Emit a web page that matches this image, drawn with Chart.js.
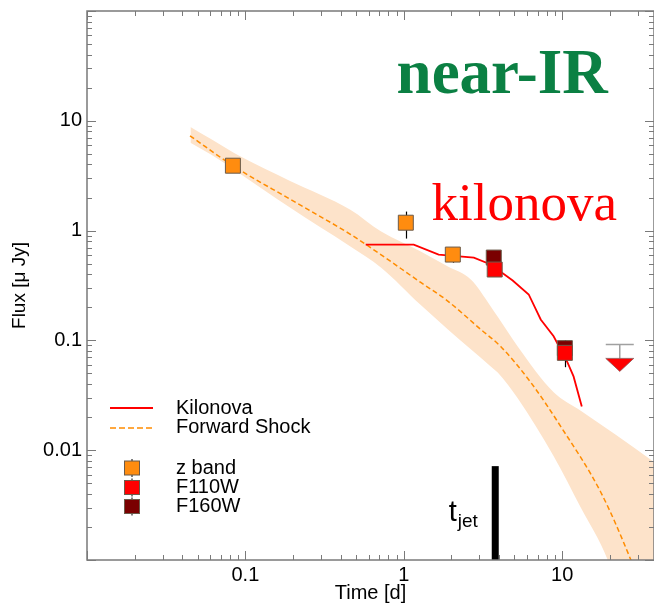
<!DOCTYPE html>
<html>
<head>
<meta charset="utf-8">
<script src="https://cdn.jsdelivr.net/npm/chart.js@4.4.0/dist/chart.umd.min.js"></script>
<style>
  html, body { margin: 0; padding: 0; background: #fff; }
  canvas { display: block; }
</style>
</head>
<body>
<canvas id="lc" width="654" height="603"></canvas>
<script>
'use strict'

// forward shock uncertainty band, upper and lower edge on one time grid
const bandTime = [0.045, 0.061, 0.094, 0.19, 0.46, 0.72, 1.28, 1.9, 2.65, 3.54, 3.92, 5.24, 8.84, 13.1, 19.4, 21.8, 38]
const bandHigh = [8.8, 6.8, 4.7, 2.85, 1.55, 0.98, 0.645, 0.47, 0.358, 0.204, 0.164, 0.088, 0.0337, 0.0229, 0.0155, 0.0138, 0.0078]
const bandLow = [6.3, 4.9, 3.25, 1.63, 0.715, 0.46, 0.21, 0.126, 0.083, 0.058, 0.051, 0.0297, 0.0088, 0.003, 0.001, 0.0006, 0.0001]

// forward shock model (dashed)
const fsTime = [0.0447, 0.0834, 0.194, 0.463, 0.716, 1.28, 1.84, 3.06, 4.09, 6.33, 9.78, 17.5, 27.0, 31]
const fsFlux = [7.3, 3.9, 1.91, 0.92, 0.605, 0.337, 0.236, 0.126, 0.088, 0.0415, 0.0165, 0.00416, 0.00102, 0.0006]

// kilonova model
const knTime = [0.575, 1.156, 1.66, 2.77, 3.54, 4.87, 6.15, 7.32, 8.83, 10.8, 11.8, 13.3]
const knFlux = [0.746, 0.746, 0.605, 0.568, 0.491, 0.351, 0.262, 0.155, 0.109, 0.063, 0.047, 0.025]

// photometry
const zTime = [0.0834, 1.03, 2.04]
const zFlux = [3.9, 1.18, 0.605]
const zErrLo = [null, 0.846, 0.51]
const zErrHi = [null, 1.49, 0.605]

const f110Time = [3.75, 10.4]
const f110Flux = [0.442, 0.077]
const f110ErrLo = [null, 0.057]
const f110ErrHi = [null, 0.10]

const f160Time = [3.7, 10.4]
const f160Flux = [0.568, 0.085]

// F110W upper limit
const limTime = [23.1]
const limFlux = [0.092]

// jet break
const tJet = 3.78
const tJetTop = 0.00716

const xLabels = [0.1, 1, 10]
const yLabels = [0.01, 0.1, 1, 10]

const sans = '"Liberation Sans", Arial, sans-serif'
const serif = '"Liberation Serif", "Times New Roman", serif'
const axisGrey = '#7a7a7a'

function pts(xs, ys) {
    return xs.map((v, i) => ({ x: v, y: ys[i] }));
}

function logTicks(lo, hi, max) {
    let out = [];
    for (let e = lo; e <= hi; e++) {
        for (let m = 1; m < 10; m++) {
            let v = +(m * Math.pow(10, e)).toPrecision(3);
            if (v <= max) out.push(v);
        }
    }
    return out;
}

function labelFor(list) {
    return function (value) {
        for (let i = 0; i < list.length; i++) {
            if (Math.abs(value / list[i] - 1) < 1e-6) return String(list[i]);
        }
        return '';
    }
}

function isDecade(v) {
    let l = Math.log10(v);
    return Math.abs(l - Math.round(l)) < 1e-6;
}

// no extra room for edge labels, the frame sits on fixed edges
function noPad(s) {
    s.paddingLeft = 0; s.paddingRight = 0; s.paddingTop = 0; s.paddingBottom = 0;
}

const xTickVals = logTicks(-2, 1, 38)
const yTickVals = logTicks(-3, 2, 100)

const decor = {
    id: 'decor',
    beforeDatasetDraw(chart, args) {
        if (chart.data.datasets[args.index].label !== 'F160W') return;
        const ctx = chart.ctx;
        const xs = chart.scales.x, ys = chart.scales.y;
        ctx.save();
        ctx.strokeStyle = '#000';
        ctx.lineWidth = 1.2;
        [[zTime, zErrLo, zErrHi], [f110Time, f110ErrLo, f110ErrHi]].forEach(function (set) {
            set[0].forEach(function (t, i) {
                if (set[1][i] == null) return;
                let px = Math.round(xs.getPixelForValue(t)) + 0.5;
                ctx.beginPath();
                ctx.moveTo(px, ys.getPixelForValue(set[2][i]));
                ctx.lineTo(px, ys.getPixelForValue(set[1][i]));
                ctx.stroke();
            });
        });
        ctx.restore();
    },
    afterDraw(chart) {
        const ctx = chart.ctx;
        const ca = chart.chartArea;
        const xs = chart.scales.x, ys = chart.scales.y;
        ctx.save();

        // upper limit: bar plus downward triangle
        limTime.forEach(function (t, i) {
            let px = xs.getPixelForValue(t), py = ys.getPixelForValue(limFlux[i]);
            ctx.strokeStyle = '#a0a0a0';
            ctx.lineWidth = 1.5;
            ctx.beginPath();
            ctx.moveTo(px - 14, py); ctx.lineTo(px + 14, py);
            ctx.moveTo(px, py); ctx.lineTo(px, py + 14);
            ctx.stroke();
            ctx.beginPath();
            ctx.moveTo(px - 14, py + 14);
            ctx.lineTo(px + 14, py + 14);
            ctx.lineTo(px, py + 27);
            ctx.closePath();
            ctx.fillStyle = '#ff0000';
            ctx.fill();
            ctx.strokeStyle = '#8a5a5a';
            ctx.lineWidth = 0.8;
            ctx.stroke();
        });

        // frame and inward ticks
        ctx.strokeStyle = axisGrey;
        ctx.lineWidth = 1.5;
        ctx.strokeRect(ca.left, ca.top, ca.right - ca.left, ca.bottom - ca.top);
        ctx.lineWidth = 1;
        ctx.beginPath();
        xs.ticks.forEach(function (tk) {
            let px = Math.round(xs.getPixelForValue(tk.value)) + 0.5;
            let len = isDecade(tk.value) ? 9 : 5;
            ctx.moveTo(px, ca.bottom); ctx.lineTo(px, ca.bottom - len);
            ctx.moveTo(px, ca.top); ctx.lineTo(px, ca.top + len);
        });
        ys.ticks.forEach(function (tk) {
            let py = Math.round(ys.getPixelForValue(tk.value)) + 0.5;
            let len = isDecade(tk.value) ? 9 : 5;
            ctx.moveTo(ca.left, py); ctx.lineTo(ca.left + len, py);
            ctx.moveTo(ca.right, py); ctx.lineTo(ca.right - len, py);
        });
        ctx.stroke();

        // panel labels
        ctx.textAlign = 'center';
        ctx.textBaseline = 'alphabetic';
        ctx.fillStyle = '#0b8043';
        ctx.font = 'bold 63px ' + serif;
        ctx.fillText('near-IR', xs.getPixelForValue(4.18), ys.getPixelForValue(18));
        ctx.fillStyle = '#ff0000';
        ctx.font = '53px ' + serif;
        ctx.fillText('kilonova', xs.getPixelForValue(5.76), ys.getPixelForValue(1.26));

        // t_jet label
        ctx.textAlign = 'left';
        ctx.fillStyle = '#000';
        let tx = xs.getPixelForValue(1.92), ty = ys.getPixelForValue(0.00226);
        ctx.font = '29px ' + sans;
        ctx.fillText('t', tx, ty);
        let tw = ctx.measureText('t').width;
        ctx.font = '19px ' + sans;
        ctx.fillText('jet', tx + tw + 1, ty + 6);

        // legend
        let lx = ca.left + 23, tx0 = ca.left + 89;
        ctx.font = '20px ' + sans;
        ctx.lineWidth = 1.8;
        ctx.strokeStyle = '#ff0000';
        ctx.beginPath(); ctx.moveTo(lx, 408); ctx.lineTo(lx + 43, 408); ctx.stroke();
        ctx.fillText('Kilonova', tx0, 414);
        ctx.strokeStyle = '#ff8c00';
        ctx.lineWidth = 1.5;
        ctx.setLineDash([6, 3]);
        ctx.beginPath(); ctx.moveTo(lx, 428); ctx.lineTo(lx + 43, 428); ctx.stroke();
        ctx.setLineDash([]);
        ctx.fillText('Forward Shock', tx0, 433);

        [['z band', '#ff8c0f', 468], ['F110W', '#ff0000', 487.5], ['F160W', '#7a0000', 506.5]].forEach(function (e) {
            let cx = ca.left + 45, cy = e[2];
            ctx.strokeStyle = '#000';
            ctx.lineWidth = 1;
            ctx.beginPath(); ctx.moveTo(cx, cy - 9); ctx.lineTo(cx, cy + 9); ctx.stroke();
            ctx.fillStyle = e[1];
            ctx.fillRect(cx - 7.5, cy - 7, 15, 14);
            ctx.strokeStyle = '#6b5b4b';
            ctx.strokeRect(cx - 7.5, cy - 7, 15, 14);
            ctx.fillStyle = '#000';
            ctx.fillText(e[0], tx0, cy + 5.5);
        });
        ctx.restore();
    }
}

const squareBorder = '#6b5b4b'

new Chart(document.getElementById('lc'), {
    type: 'scatter',
    data: {
        datasets: [
            {
                label: 'band', data: pts(bandTime, bandHigh), showLine: true, fill: '+1',
                cubicInterpolationMode: 'monotone',
                backgroundColor: '#fde3ca', borderColor: 'transparent', borderWidth: 0, pointRadius: 0, order: 11
            },
            {
                label: 'band-low', data: pts(bandTime, bandLow), showLine: true, fill: false,
                cubicInterpolationMode: 'monotone',
                borderColor: 'transparent', borderWidth: 0, pointRadius: 0, order: 10
            },
            {
                label: 'Forward Shock', data: pts(fsTime, fsFlux), showLine: true, borderColor: '#ff8c00',
                cubicInterpolationMode: 'monotone',
                borderWidth: 1.5, borderDash: [5, 3], pointRadius: 0, order: 9
            },
            {
                label: 'Kilonova', data: pts(knTime, knFlux), showLine: true, borderColor: '#ff0000',
                borderWidth: 1.8, pointRadius: 0, order: 8
            },
            {
                label: 'tjet', data: [{ x: tJet, y: 0.001 }, { x: tJet, y: tJetTop }], showLine: true,
                borderColor: '#000', borderWidth: 7, borderCapStyle: 'butt', pointRadius: 0, order: 7
            },
            {
                label: 'F160W', data: pts(f160Time, f160Flux), pointStyle: 'rect', pointRadius: 10.6,
                backgroundColor: '#7a0000', borderColor: squareBorder, borderWidth: 1, order: 6
            },
            {
                label: 'F110W', data: pts(f110Time, f110Flux), pointStyle: 'rect', pointRadius: 10.6,
                backgroundColor: '#ff0000', borderColor: squareBorder, borderWidth: 1, order: 5
            },
            {
                label: 'z band', data: pts(zTime, zFlux), pointStyle: 'rect', pointRadius: 10.6,
                backgroundColor: '#ff8c0f', borderColor: squareBorder, borderWidth: 1, order: 4
            }
        ]
    },
    options: {
        responsive: false,
        animation: false,
        devicePixelRatio: 1,
        layout: { autoPadding: false, padding: { left: 0, top: 11, right: 0, bottom: 0 } },
        plugins: { legend: { display: false }, tooltip: { enabled: false } },
        scales: {
            x: {
                type: 'logarithmic', min: 0.01, max: 38,
                afterBuildTicks: s => { s.ticks = xTickVals.map(v => ({ value: v })); },
                afterFit: s => { s.height = 43; noPad(s); },
                grid: { display: false, drawTicks: false },
                border: { display: false },
                ticks: {
                    callback: labelFor(xLabels), autoSkip: false, maxRotation: 0, padding: 3,
                    color: '#000', font: { family: sans, size: 20 }
                },
                title: {
                    display: true, text: 'Time [d]', color: '#000',
                    font: { family: sans, size: 20 }, padding: { top: 0, bottom: -2 }
                }
            },
            y: {
                type: 'logarithmic', min: 0.001, max: 100,
                afterBuildTicks: s => { s.ticks = yTickVals.map(v => ({ value: v })); },
                afterFit: s => { s.width = 87; noPad(s); },
                grid: { display: false, drawTicks: false },
                border: { display: false },
                ticks: {
                    callback: labelFor(yLabels), autoSkip: false, padding: 5,
                    color: '#000', font: { family: sans, size: 20 }
                },
                title: {
                    display: true, text: 'Flux [μ Jy]', color: '#000',
                    font: { family: sans, size: 19 }, padding: { top: 8, bottom: 0 }
                }
            }
        }
    },
    plugins: [decor]
});
</script>
</body>
</html>
